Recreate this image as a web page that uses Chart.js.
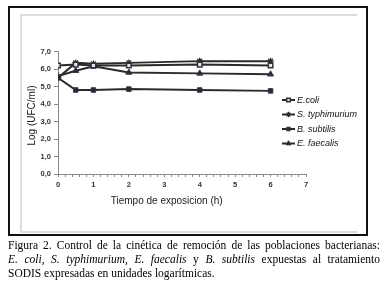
<!DOCTYPE html>
<html>
<head>
<meta charset="utf-8">
<script src="https://cdn.jsdelivr.net/npm/chart.js@4/dist/chart.umd.min.js"></script>
<style>
  html, body { margin: 0; padding: 0; background: #fff; }
  body { width: 382px; height: 287px; position: relative; overflow: hidden; }
  #outer { position: absolute; left: 8px; top: 6px; width: 356px; height: 226px; border: 2px solid #111; }
  #inner { position: absolute; left: 20px; top: 14px; width: 335px; height: 215px;
           border-top: 2px solid #dcdcdc; border-left: 2px solid #dcdcdc; border-bottom: 2px solid #dcdcdc; }
  #wrap { position: absolute; left: 0; top: 0; width: 382px; height: 240px; }
  #caption { position: absolute; left: 8px; top: 238px; width: 372px;
             font-family: "Liberation Serif", "Times New Roman", serif; font-size: 11.5px; line-height: 14px; color: #000; }
  .j2 { text-align: justify; text-align-last: justify; }
</style>
</head>
<body>
<div id="outer"></div>
<div id="inner"></div>
<div id="wrap"><canvas id="c" width="382" height="240"></canvas></div>
<div id="caption">
  <div class="j2">Figura 2. Control de la cinética de remoción de las poblaciones bacterianas:</div>
  <div class="j2"><i>E. coli, S. typhimurium, E. faecalis</i> y <i>B. subtilis</i> expuestas al tratamiento</div>
  <div>SODIS expresadas en unidades logarítmicas.</div>
</div>
<script>
const times = [0, 0.5, 1, 2, 4, 6];
const seriesNames = ["E.coli", "S. typhimurium", "B. subtilis", "E. faecalis"];
const ecoli = [6.2, 6.25, 6.2, 6.2, 6.25, 6.2];
const styph = [5.5, 6.35, 6.3, 6.35, 6.45, 6.45];
const bsub  = [5.5, 4.8, 4.8, 4.85, 4.8, 4.75];
const efaec = [5.6, 5.9, 6.15, 5.8, 5.75, 5.7];
const yTicks = [0, 1, 2, 3, 4, 5, 6, 7];
const xTitle = "Tiempo de exposicion (h)";
const yTitle = "Log (UFC/ml)";

const lineCol = "#2a2a2a";
const mk = (vals) => times.map((t, i) => ({x: t, y: vals[i]}));

const styles = [
  {pointStyle: 'rect', radius: 3.2, bg: '#e6e6e6', border: '#2e3440', bw: 1.5},
  {pointStyle: 'star', radius: 3.3, bg: '#2a2a2a', border: '#2a2a2a', bw: 1.2},
  {pointStyle: 'rect', radius: 3.2, bg: '#2a2a2a', border: '#2e3a55', bw: 1},
  {pointStyle: 'triangle', radius: 3.5, bg: '#2a2a2a', border: '#2e3a55', bw: 1}
];
const allVals = [ecoli, styph, bsub, efaec];

const datasets = allVals.map((v, i) => ({
  label: seriesNames[i],
  data: mk(v),
  borderColor: lineCol,
  borderWidth: 2,
  pointStyle: styles[i].pointStyle,
  pointRadius: styles[i].radius,
  pointBackgroundColor: styles[i].bg,
  pointBorderColor: styles[i].border,
  pointBorderWidth: styles[i].bw,
  tension: 0,
  fill: false
}));

const legendPlugin = {
  id: 'excelLegend',
  afterDraw(chart) {
    const ctx = chart.ctx;
    const ys = [100, 114.5, 129, 143.5];
    ctx.save();
    chart.data.datasets.forEach((ds, i) => {
      const y = ys[i];
      ctx.strokeStyle = ds.borderColor;
      ctx.lineWidth = 2;
      ctx.beginPath();
      ctx.moveTo(282, y);
      ctx.lineTo(295, y);
      ctx.stroke();
      ctx.fillStyle = ds.pointBackgroundColor;
      ctx.strokeStyle = ds.pointBorderColor;
      ctx.lineWidth = ds.pointBorderWidth;
      Chart.helpers.drawPoint(ctx, {pointStyle: ds.pointStyle, radius: ds.pointRadius * 0.8, rotation: 0, borderWidth: ds.pointBorderWidth}, 288.5, y);
      ctx.fillStyle = '#111';
      ctx.font = 'italic 9px "Liberation Sans", Arial, sans-serif';
      ctx.textBaseline = 'middle';
      ctx.textAlign = 'left';
      ctx.fillText(ds.label, 297, y);
    });
    ctx.restore();
  }
};

const fmtY = v => v.toFixed(1).replace('.', ',');

new Chart(document.getElementById('c'), {
  type: 'line',
  data: { datasets },
  plugins: [legendPlugin],
  options: {
    responsive: false,
    animation: false,
    devicePixelRatio: 1,
    layout: { padding: { left: 18, top: 51.5, right: 76, bottom: 26 } },
    plugins: { legend: { display: false }, tooltip: { enabled: false } },
    scales: {
      x: {
        type: 'linear',
        min: 0, max: 7,
        border: { color: '#8a8a8a', width: 1 },
        grid: { drawOnChartArea: false, tickLength: 3, color: '#8a8a8a' },
        ticks: {
          stepSize: 0.2, autoSkip: false, maxRotation: 0, padding: 3,
          color: '#333', font: { family: '"Liberation Sans", Arial, sans-serif', size: 7.5, weight: 'bold' },
          callback: (v) => Math.abs(v - Math.round(v)) < 1e-6 ? String(Math.round(v)) : ''
        },
        title: { display: true, text: xTitle + '\u00a0'.repeat(11), color: '#1a1a1a',
                 font: { family: '"Liberation Sans", Arial, sans-serif', size: 10 }, padding: { top: 0, bottom: 7 } },
        afterFit(s) { s.height = 40; s.paddingLeft = 0; s.paddingRight = 0; s.paddingTop = 0; s.paddingBottom = 0; }
      },
      y: {
        min: 0, max: 7,
        border: { color: '#8a8a8a', width: 1 },
        grid: { drawOnChartArea: false, tickLength: 4, color: '#8a8a8a' },
        afterBuildTicks(s) { s.ticks = yTicks.map(v => ({value: v})); },
        ticks: {
          padding: 3, color: '#333',
          font: { family: '"Liberation Sans", Arial, sans-serif', size: 7.5, weight: 'bold' },
          callback: (v) => fmtY(v)
        },
        title: { display: true, text: yTitle + '\u00a0'.repeat(2), color: '#1a1a1a',
                 font: { family: '"Liberation Sans", Arial, sans-serif', size: 10 }, padding: { top: 8, bottom: 0 } },
        afterFit(s) { s.width = 40; s.paddingLeft = 0; s.paddingRight = 0; s.paddingTop = 0; s.paddingBottom = 0; }
      }
    }
  }
});
</script>
</body>
</html>
